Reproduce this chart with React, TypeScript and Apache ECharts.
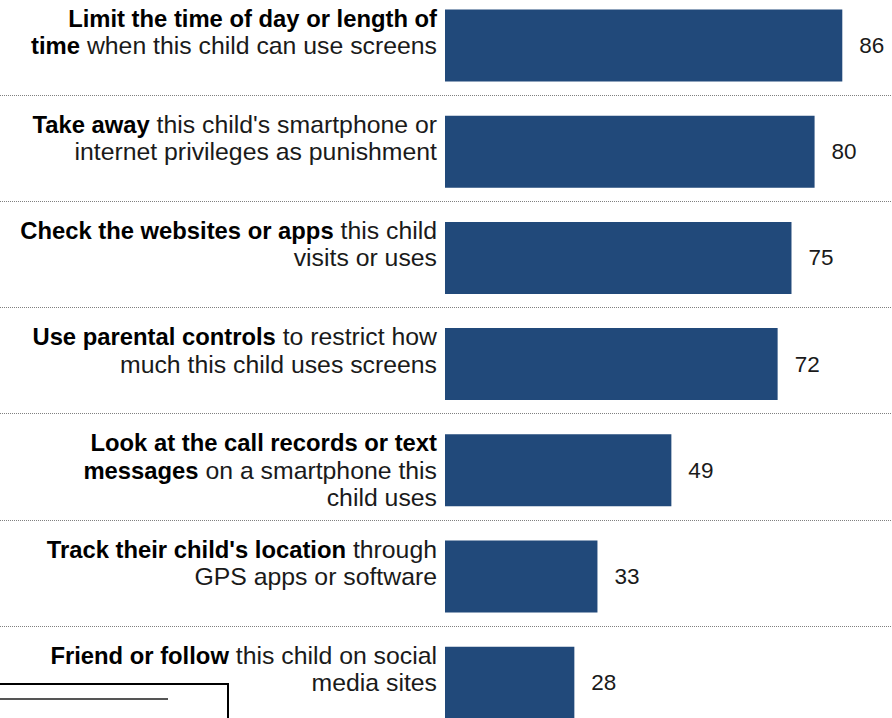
import React, { useEffect, useRef } from "react";
import * as echarts from "echarts";

const categories: string[] = [
  "{b|Limit the time of day or length of}\n{b|time} when this child can use screens",
  "{b|Take away} this child's smartphone or\ninternet privileges as punishment",
  "{b|Check the websites or apps} this child\nvisits or uses",
  "{b|Use parental controls} to restrict how\nmuch this child uses screens",
  "{b|Look at the call records or text}\n{b|messages} on a smartphone this\nchild uses",
  "{b|Track their child's location} through\nGPS apps or software",
  "{b|Friend or follow} this child on social\nmedia sites",
];
const values: number[] = [86, 80, 75, 72, 49, 33, 28];

const FONT = "Liberation Sans";
const BAR = "#21497a";

export default function App() {
  const ref = useRef<HTMLDivElement>(null);
  useEffect(() => {
    if (!ref.current) return;
    const chart = echarts.init(ref.current, null, { renderer: "svg" });
    const top = -7.6;
    const height = 743.4;
    chart.setOption({
      animation: false,
      backgroundColor: "#ffffff",
      grid: [
        { left: 445, right: 3.5, top, height, outerBoundsMode: "none", containLabel: false },
        { left: 0, right: 0, top: top - 3.5, height, outerBoundsMode: "none", containLabel: false },
      ],
      xAxis: [
        { type: "value", gridIndex: 0, min: 0, max: 96, show: false },
        { type: "value", gridIndex: 1, min: 0, max: 1, show: false },
      ],
      yAxis: [
        {
          type: "category",
          gridIndex: 0,
          inverse: true,
          data: categories,
          axisLine: { show: false },
          axisTick: { show: false },
          splitLine: { show: false },
          axisLabel: {
            interval: 0,
            margin: 8,
            align: "right",
            verticalAlign: "middle",
            fontFamily: FONT,
            fontSize: 24.8,
            color: "#1a1a1a",
            lineHeight: 27.5,
            formatter: (v: string) =>
              v.split("\n").length < 3 ? v + "\n{sp| }" : v,
            rich: {
              b: {
                fontFamily: FONT,
                fontSize: 23.8,
                fontWeight: "bold",
                color: "#000000",
                lineHeight: 27.5,
              },
              sp: { fontSize: 22, lineHeight: 27.5 },
            },
          },
        },
        {
          type: "category",
          gridIndex: 1,
          inverse: true,
          data: categories,
          axisLine: { show: false },
          axisTick: { show: false },
          axisLabel: { show: false },
          splitLine: {
            show: true,
            interval: 0,
            lineStyle: { type: "dotted", color: "#808080", width: 1 },
          },
        },
      ],
      series: [
        {
          type: "bar",
          xAxisIndex: 0,
          yAxisIndex: 0,
          data: values,
          barWidth: 72,
          itemStyle: { color: BAR },
          label: {
            show: true,
            position: "right",
            distance: 17,
            fontFamily: FONT,
            fontSize: 22.5,
            color: "#1a1a1a",
          },
        },
      ],
      graphic: [
        {
          type: "line",
          shape: { x1: 0, y1: 684, x2: 228, y2: 684 },
          style: { stroke: "#000", lineWidth: 2 },
        },
        {
          type: "line",
          shape: { x1: 228, y1: 683, x2: 228, y2: 718 },
          style: { stroke: "#000", lineWidth: 2 },
        },
        {
          type: "line",
          shape: { x1: 0, y1: 699, x2: 168, y2: 699 },
          style: { stroke: "#555", lineWidth: 2 },
        },
      ],
    });
    return () => chart.dispose();
  }, []);
  return (
    <div
      ref={ref}
      style={{ position: "absolute", left: 0, top: 0, width: 892, height: 718 }}
    />
  );
}
